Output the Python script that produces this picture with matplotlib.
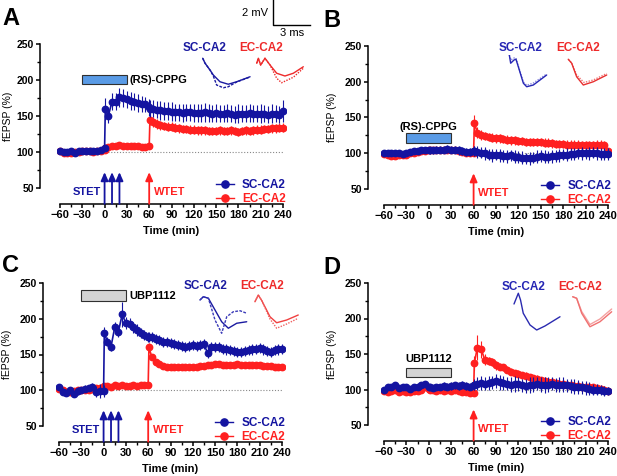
import matplotlib
matplotlib.use('Agg')
import matplotlib.pyplot as plt
from matplotlib.patches import Rectangle
from matplotlib.lines import Line2D

plt.rcParams['font.family'] = ['Liberation Sans', 'DejaVu Sans']

BLUE = '#1414a0'
RED = '#ff2020'

# sampling times (min), shared by all panels
t_min = [-60, -55, -50, -45, -40, -35, -30, -25, -20, -15, -10, -5, 0,
         1, 5, 10, 15, 20, 25, 30, 35, 40, 45, 50, 55, 60, 61,
         65, 70, 75, 80, 85, 90, 95, 100, 105, 110, 115, 120, 125, 130, 135, 140,
         145, 150, 155, 160, 165, 170, 175, 180, 185, 190, 195, 200, 205, 210,
         215, 220, 225, 230, 235, 240]

# panel A : (RS)-CPPG, STET on SC, WTET on EC
a_sc = [102, 100, 100, 101, 99, 101, 102, 102, 101, 101, 102, 103, 105,
        160, 150, 170, 170, 176, 175, 173, 171, 170, 168, 167, 166, 162, 160,
        160, 159, 158, 157, 157, 156, 155, 155, 154, 155, 155, 154, 154, 154, 155, 154,
        153, 154, 153, 153, 154, 153, 152, 153, 153, 153, 154, 153, 153, 153,
        153, 152, 153, 153, 152, 157]
a_sc_sem = [3, 2, 3, 2, 3, 2, 3, 2, 3, 2, 3, 3, 4,
            15, 10, 12, 12, 13, 13, 12, 12, 12, 12, 11, 11, 12, 12,
            12, 12, 13, 12, 12, 13, 12, 12, 13, 12, 12, 13, 12, 12, 13, 12,
            12, 13, 12, 12, 13, 12, 12, 13, 12, 12, 13, 12, 12, 13,
            12, 12, 13, 12, 12, 15]
a_ec = [101, 99, 99, 99, 100, 100, 101, 101, 101, 100, 101, 102, 103,
        106, 107, 108, 109, 110, 108, 109, 108, 109, 108, 107, 107, 108, 145,
        142, 139, 137, 136, 135, 135, 134, 133, 132, 132, 131, 131, 130, 130, 130, 129,
        129, 129, 130, 129, 129, 130, 129, 128, 129, 130, 129, 130, 131, 131,
        132, 132, 133, 133, 134, 134]
a_ec_sem = [2, 2, 2, 2, 2, 2, 2, 2, 2, 2, 2, 2, 2,
            3, 3, 3, 3, 3, 3, 3, 3, 3, 3, 3, 3, 3, 8,
            7, 7, 6, 6, 6, 6, 6, 6, 6, 6, 6, 6, 6, 6, 6, 6,
            6, 6, 6, 6, 6, 6, 6, 6, 6, 6, 6, 6, 6, 6,
            6, 6, 6, 6, 6, 6]

# panel B : (RS)-CPPG, WTET on EC only
b_sc = [100, 100, 100, 101, 100, 99, 100, 102, 103, 103, 104, 104, 104,
        104, 104, 105, 105, 105, 106, 105, 105, 104, 103, 102, 102, 103, 103,
        102, 101, 100, 98, 97, 98, 97, 96, 96, 97, 95, 95, 94, 93, 93, 94,
        95, 96, 95, 95, 96, 96, 97, 98, 98, 99, 99, 100, 100, 100,
        100, 101, 100, 99, 99, 99]
b_sc_sem = [3, 3, 3, 3, 3, 3, 3, 3, 3, 3, 3, 3, 4,
            5, 5, 5, 5, 5, 5, 5, 5, 6, 6, 6, 6, 7, 7,
            8, 8, 9, 8, 9, 8, 9, 8, 9, 8, 9, 8, 9, 8, 9, 8,
            9, 8, 9, 8, 9, 8, 9, 8, 9, 8, 9, 8, 9, 8,
            9, 8, 9, 8, 9, 8]
b_ec = [99, 97, 96, 96, 97, 97, 98, 100, 101, 102, 103, 103, 104,
        104, 104, 104, 105, 105, 104, 104, 104, 103, 102, 101, 100, 100, 142,
        129, 126, 124, 123, 122, 121, 121, 120, 119, 118, 118, 117, 117, 116, 116, 116,
        116, 116, 115, 115, 114, 113, 113, 113, 112, 112, 112, 112, 111, 111,
        111, 111, 112, 112, 111, 103]
b_ec_sem = [2, 2, 2, 2, 2, 2, 2, 2, 2, 2, 2, 2, 2,
            3, 3, 3, 3, 3, 3, 3, 3, 3, 3, 3, 3, 3, 12,
            8, 7, 6, 6, 6, 6, 6, 6, 6, 6, 6, 6, 6, 6, 6, 6,
            6, 6, 6, 6, 6, 6, 6, 6, 6, 6, 6, 6, 6, 6,
            6, 6, 6, 6, 6, 4]

# panel C : UBP1112, STET on SC, WTET on EC
c_sc = [104, 98, 96, 100, 95, 99, 100, 102, 103, 105, 98, 99, 99,
        180, 168, 161, 188, 182, 206, 194, 193, 188, 184, 180, 177, 174, 175,
        174, 172, 170, 168, 168, 166, 164, 163, 162, 160, 162, 163, 162, 163, 164, 152,
        160, 161, 160, 158, 157, 156, 155, 154, 154, 155, 156, 157, 158, 159,
        157, 155, 154, 156, 157, 158]
c_sc_sem = [4, 5, 4, 5, 4, 5, 4, 5, 4, 5, 8, 10, 8,
            8, 6, 6, 8, 8, 18, 8, 8, 8, 8, 7, 7, 7, 7,
            7, 7, 7, 7, 7, 7, 7, 7, 7, 7, 7, 7, 7, 7, 7, 7,
            7, 7, 7, 7, 7, 7, 7, 7, 7, 7, 7, 7, 7, 7,
            7, 7, 7, 7, 7, 7]
c_ec = [102, 100, 97, 98, 99, 100, 100, 101, 101, 102, 103, 103, 104,
        106, 106, 105, 107, 106, 107, 106, 106, 107, 106, 107, 107, 108, 160,
        146, 140, 137, 134, 133, 132, 132, 132, 133, 132, 133, 133, 133, 134, 134, 135,
        136, 137, 137, 136, 136, 136, 136, 137, 136, 136, 135, 135, 136, 135,
        134, 134, 134, 133, 133, 133]
c_ec_sem = [3, 3, 3, 3, 3, 3, 3, 3, 3, 3, 3, 3, 3,
            3, 3, 3, 3, 3, 3, 3, 3, 3, 3, 3, 3, 3, 6,
            4, 3, 3, 3, 3, 3, 3, 3, 3, 3, 3, 3, 3, 3, 3, 3,
            3, 3, 3, 3, 3, 3, 3, 3, 3, 3, 3, 3, 3, 3,
            3, 3, 3, 3, 3, 3]

# panel D : UBP1112, WTET on EC only
d_sc = [100, 103, 104, 106, 102, 104, 103, 101, 104, 103, 106, 108, 104,
        103, 102, 103, 104, 105, 104, 105, 106, 105, 107, 105, 104, 106, 107,
        108, 109, 108, 109, 110, 112, 110, 109, 108, 107, 108, 108, 106, 105, 106, 107,
        108, 107, 106, 107, 108, 106, 107, 107, 106, 105, 104, 104, 103, 102,
        101, 100, 100, 99, 98, 98]
d_sc_sem = [3, 3, 3, 3, 3, 3, 3, 3, 3, 3, 3, 3, 4,
            4, 4, 4, 4, 5, 5, 5, 5, 5, 5, 5, 5, 6, 8,
            9, 10, 9, 10, 9, 10, 11, 10, 9, 10, 11, 10, 9, 10, 11, 10,
            9, 10, 11, 10, 9, 10, 11, 10, 9, 10, 11, 10, 9, 10,
            9, 8, 8, 7, 7, 6]
d_ec = [98, 97, 98, 99, 97, 98, 97, 97, 98, 98, 100, 103, 101,
        100, 99, 98, 99, 98, 99, 98, 99, 98, 97, 96, 95, 95, 137,
        159, 157, 142, 140, 139, 134, 132, 131, 128, 125, 123, 122, 120, 119, 117, 116,
        115, 113, 112, 111, 110, 109, 108, 108, 107, 106, 105, 105, 104, 104,
        103, 103, 102, 101, 100, 98]
d_ec_sem = [2, 2, 2, 2, 2, 2, 2, 2, 2, 2, 2, 2, 2,
            2, 2, 2, 2, 2, 2, 2, 2, 2, 2, 2, 2, 2, 10,
            18, 12, 8, 6, 6, 6, 5, 5, 5, 5, 5, 5, 5, 5, 5, 5,
            5, 5, 5, 5, 5, 5, 5, 5, 5, 5, 5, 5, 5, 5,
            5, 5, 5, 5, 5, 5]

stet_times = [0, 10, 20]
wtet_time = 60
drug_on, drug_off = -30, 30
baseline = 100

# example fEPSP traces (ms, mV), before (solid) and after (dashed / dotted)
a_sc_pre_t = [0.22, 0.41, 0.81, 1.08, 1.62, 2.29, 2.97, 4.06]
a_sc_pre_v = [-0.26, -0.66, -1.20, -1.60, -2.14, -2.34, -2.14, -1.74]
a_sc_post_t = [0.22, 0.41, 0.81, 1.08, 1.35, 1.89, 2.29, 2.68, 2.97, 4.06]
a_sc_post_v = [-0.26, -0.66, -1.20, -1.68, -2.40, -2.62, -2.54, -2.32, -2.16, -1.76]
a_ec_pre_t = [4.60, 4.73, 4.92, 5.27, 5.68, 6.22, 6.89, 7.57, 8.38]
a_ec_pre_v = [-0.66, -0.26, -0.80, -0.26, -0.80, -1.46, -1.68, -1.46, -0.94]
a_ec_post_t = [4.60, 4.73, 4.92, 5.27, 5.68, 6.22, 6.62, 7.57, 8.38]
a_ec_post_v = [-0.66, -0.26, -0.80, -0.26, -0.80, -1.86, -2.22, -1.78, -1.06]

b_sc_pre_t = [0.35, 0.46, 0.73, 0.89, 1.08, 1.49, 1.76, 2.30, 3.38]
b_sc_pre_v = [0.0, -0.66, -0.40, -0.34, -0.94, -2.26, -2.54, -2.40, -1.60]
b_sc_post_t = [0.35, 0.48, 0.73, 0.89, 1.08, 1.49, 1.76, 2.30, 3.38]
b_sc_post_v = [0.0, -0.40, -0.24, -0.24, -0.88, -2.16, -2.42, -2.24, -1.52]
b_ec_pre_t = [5.13, 5.41, 5.81, 6.35, 7.16, 8.25]
b_ec_pre_v = [-0.34, -0.66, -1.74, -2.40, -2.14, -1.60]
b_ec_post_t = [5.13, 5.41, 5.81, 6.41, 7.16, 8.25]
b_ec_post_v = [-0.34, -0.64, -1.60, -2.20, -2.00, -1.48]

c_sc_pre_t = [0.16, 0.43, 0.84, 1.38, 1.92, 2.46, 3.14, 3.95]
c_sc_pre_v = [-0.56, -0.30, -0.42, -1.36, -2.30, -2.82, -2.42, -2.30]
c_sc_post_t = [0.16, 0.43, 0.84, 1.38, 1.92, 2.33, 2.86, 3.41, 3.95]
c_sc_post_v = [-0.56, -0.30, -0.42, -2.16, -3.22, -1.90, -1.50, -1.42, -1.62]
c_ec_pre_t = [4.62, 4.89, 5.19, 5.84, 6.38, 7.19, 8.13]
c_ec_pre_v = [-0.70, -0.16, -0.64, -1.90, -2.38, -2.16, -1.76]
c_ec_post_t = [4.62, 4.89, 5.19, 5.84, 6.38, 7.19, 8.13]
c_ec_post_v = [-0.70, -0.16, -0.64, -2.08, -2.82, -2.48, -2.02]

d_sc_pre_t = [0.73, 1.08, 1.26, 1.48, 2.03, 2.57, 3.24, 4.46]
d_sc_pre_v = [-1.12, -0.26, -0.80, -1.86, -2.80, -3.20, -2.88, -2.14]
d_ec_pre_t = [5.49, 5.81, 6.22, 6.89, 7.70, 8.65]
d_ec_pre_v = [-0.54, -0.66, -1.86, -2.94, -2.54, -1.74]
d_ec_post_t = [5.49, 5.81, 6.22, 6.89, 7.70, 8.65]
d_ec_post_v = [-0.54, -0.66, -1.72, -2.76, -2.32, -1.52]

scale_ms, scale_mv = 3, 2
PX_PER_MS, PX_PER_MV = 12.33, 12.5

W, H = 617, 476
fig = plt.figure(figsize=(W / 100, H / 100), dpi=100)


def px_axes(left, top, right, bottom):
    return fig.add_axes([left / W, 1 - bottom / H, (right - left) / W, (bottom - top) / H])


def ftext(x, y, s, **kw):
    fig.text(x / W, 1 - y / H, s, **kw)


def panel(box, yoff, sc, sc_sem, ec, ec_sem, drug, drug_col, drug_box, drug_lbl, stet):
    ax = px_axes(*box)
    ax.set_xlim(-64, 244)
    ax.set_ylim(50, 250)
    ax.hlines(baseline, 0, 240, colors='#888888', linestyles=(0, (1, 1.6)), lw=0.8, zorder=1)
    ax.errorbar(t_min, ec, yerr=ec_sem, fmt='-o', color=RED, ms=4.6, lw=1.2,
                elinewidth=0.8, capsize=0, zorder=3)
    ax.errorbar(t_min, sc, yerr=sc_sem, fmt='-o', color=BLUE, ms=4.6, lw=1.2,
                elinewidth=0.8, capsize=0, zorder=4)

    for s in ['top', 'right']:
        ax.spines[s].set_visible(False)
    ax.spines['left'].set_position(('outward', yoff * 0.72))
    ax.spines['bottom'].set_position(('outward', 16 * 0.72))
    ax.spines['left'].set_bounds(50, 250)
    ax.spines['bottom'].set_bounds(-60, 240)
    for s in ['left', 'bottom']:
        ax.spines[s].set_linewidth(1.1)
    ax.set_xticks(range(-60, 241, 30))
    ax.set_xticks(range(-45, 241, 30), minor=True)
    ax.set_yticks(range(50, 251, 50))
    ax.set_yticks(range(75, 250, 50), minor=True)
    ax.tick_params(which='major', length=3, width=1.1, pad=1.5)
    ax.tick_params(axis='x', labelsize=8)
    ax.tick_params(axis='y', labelsize=7.5)
    ax.tick_params(which='minor', length=2, width=1.0)
    for lb in ax.get_xticklabels() + ax.get_yticklabels():
        lb.set_fontweight('bold')
    ax.set_xlabel('Time (min)', fontsize=8, fontweight='bold')
    ax.set_ylabel('fEPSP (%)', fontsize=7.5)
    ax.xaxis.set_label_coords(0.5, -0.30)
    ax.xaxis.label.set_verticalalignment('center')
    ax.yaxis.set_label_coords(-0.19, 0.5)

    # drug application bar
    y0, hgt = drug_box
    ax.add_patch(Rectangle((drug_on, y0), drug_off - drug_on, hgt, facecolor=drug_col,
                           edgecolor='#303030', lw=0.8, zorder=2))
    lx, ly, ha = drug_lbl
    ax.text(lx, ly, drug, ha=ha, va='center', fontsize=8, fontweight='bold')

    # tetanisation arrows
    arr = dict(arrowstyle='-|>,head_length=0.5,head_width=0.22', lw=1.3,
               shrinkA=0, shrinkB=0)
    if stet:
        for ts in stet_times:
            ax.annotate('', xy=(ts, 72), xytext=(ts, 28),
                        arrowprops=dict(arr, color=BLUE), annotation_clip=False)
        ax.text(-5, 44, 'STET', ha='right', va='center', color=BLUE,
                fontsize=8, fontweight='bold')
    ax.annotate('', xy=(wtet_time, 72), xytext=(wtet_time, 28),
                arrowprops=dict(arr, color=RED), annotation_clip=False)
    ax.text(wtet_time + 6, 44, 'WTET', ha='left', va='center', color=RED,
            fontsize=8, fontweight='bold')

    hs = [Line2D([], [], color=BLUE, marker='o', ms=5.2, lw=1),
          Line2D([], [], color=RED, marker='o', ms=5.2, lw=1)]
    ax.legend(hs, ['SC-CA2', 'EC-CA2'], loc='upper right', bbox_to_anchor=(1.0, 0.065),
              frameon=False, handlelength=1.5, handletextpad=0.7, labelspacing=0.2,
              borderpad=0, borderaxespad=0, prop=dict(weight='bold', size=8.5),
              labelcolor='linecolor')
    return ax


def trace_inset(x0, y0, traces, w=112, h=50):
    ax = px_axes(x0, y0, x0 + w, y0 + h)
    ax.set_xlim(0, w / PX_PER_MS)
    ax.set_ylim(-h / PX_PER_MV, 0)
    ax.axis('off')
    for tt, vv, col, ls in traces:
        ax.plot(tt, vv, color=col, ls=ls, lw=1.0, solid_capstyle='round')
    return ax


panel((57, 44, 286, 188), 17, a_sc, a_sc_sem, a_ec, a_ec_sem, '(RS)-CPPG', '#5a9be6',
      (194, 13), (34, 200, 'left'), True)
panel((381, 46, 611, 189), 13, b_sc, b_sc_sem, b_ec, b_ec_sem, '(RS)-CPPG', '#5a9be6',
      (114, 14), (0, 137, 'center'), False)
panel((56, 283, 285, 426), 13, c_sc, c_sc_sem, c_ec, c_ec_sem, 'UBP1112', '#d4d4d4',
      (225, 15), (35, 232, 'left'), True)
panel((381, 283, 611, 425), 13, d_sc, d_sc_sem, d_ec, d_ec_sem, 'UBP1112', '#d4d4d4',
      (117, 13), (0, 143, 'center'), False)

trace_inset(200, 55, [(a_sc_pre_t, a_sc_pre_v, '#1a1aa0', '-'),
                      (a_sc_post_t, a_sc_post_v, '#1a1aa0', (0, (2, 1))),
                      (a_ec_pre_t, a_ec_pre_v, '#ee2a2a', '-'),
                      (a_ec_post_t, a_ec_post_v, '#ee2a2a', (0, (1, 1)))])
trace_inset(505, 55, [(b_sc_post_t, b_sc_post_v, '#8a8ae0', (0, (1, 1))),
                      (b_sc_pre_t, b_sc_pre_v, '#2626b4', '-'),
                      (b_ec_post_t, b_ec_post_v, '#f07070', (0, (1, 1))),
                      (b_ec_pre_t, b_ec_pre_v, '#e83030', '-')])
trace_inset(198, 293, [(c_sc_pre_t, c_sc_pre_v, '#1a1aa0', '-'),
                       (c_sc_post_t, c_sc_post_v, '#3a3ab8', (0, (2, 1))),
                       (c_ec_pre_t, c_ec_pre_v, '#f04040', '-'),
                       (c_ec_post_t, c_ec_post_v, '#f06060', (0, (1, 1)))])
trace_inset(505, 290, [(d_sc_pre_t, d_sc_pre_v, '#2a2ab0', '-'),
                       (d_ec_post_t, d_ec_post_v, '#f4a0a0', '-'),
                       (d_ec_pre_t, d_ec_pre_v, '#f07070', '-')])

# scale bar
sb = px_axes(273, 0, 313, 28)
sb.set_xlim(0, 40 / PX_PER_MS)
sb.set_ylim(-28 / PX_PER_MV, 0)
sb.axis('off')
sb.plot([0, 0, scale_ms], [0, -scale_mv, -scale_mv], color='black', lw=1.0,
        clip_on=False)
ftext(268, 13, '%d mV' % scale_mv, ha='right', va='center', fontsize=8)
ftext(292, 33, '%d ms' % scale_ms, ha='center', va='center', fontsize=8)

# trace titles
for x, y, s, c in [(205, 48, 'SC-CA2', '#1a1aa0'), (261, 48, 'EC-CA2', '#ee2a2a'),
                   (521, 48, 'SC-CA2', '#2626b4'), (578, 48, 'EC-CA2', '#ee2a2a'),
                   (206, 286, 'SC-CA2', '#1a1aa0'), (262, 286, 'EC-CA2', '#ee2a2a'),
                   (524, 287, 'SC-CA2', '#2626b4'), (580, 287, 'EC-CA2', '#ee2a2a')]:
    ftext(x, y, s, ha='center', va='center', color=c, fontsize=8.5, fontweight='bold')

# panel letters
for x, y, s in [(2, 7, 'A'), (323, 9, 'B'), (2, 254, 'C'), (323, 256, 'D')]:
    ftext(x, y, s, ha='left', va='top', fontsize=17, fontweight='bold')

fig.savefig('out.png', dpi=100)
